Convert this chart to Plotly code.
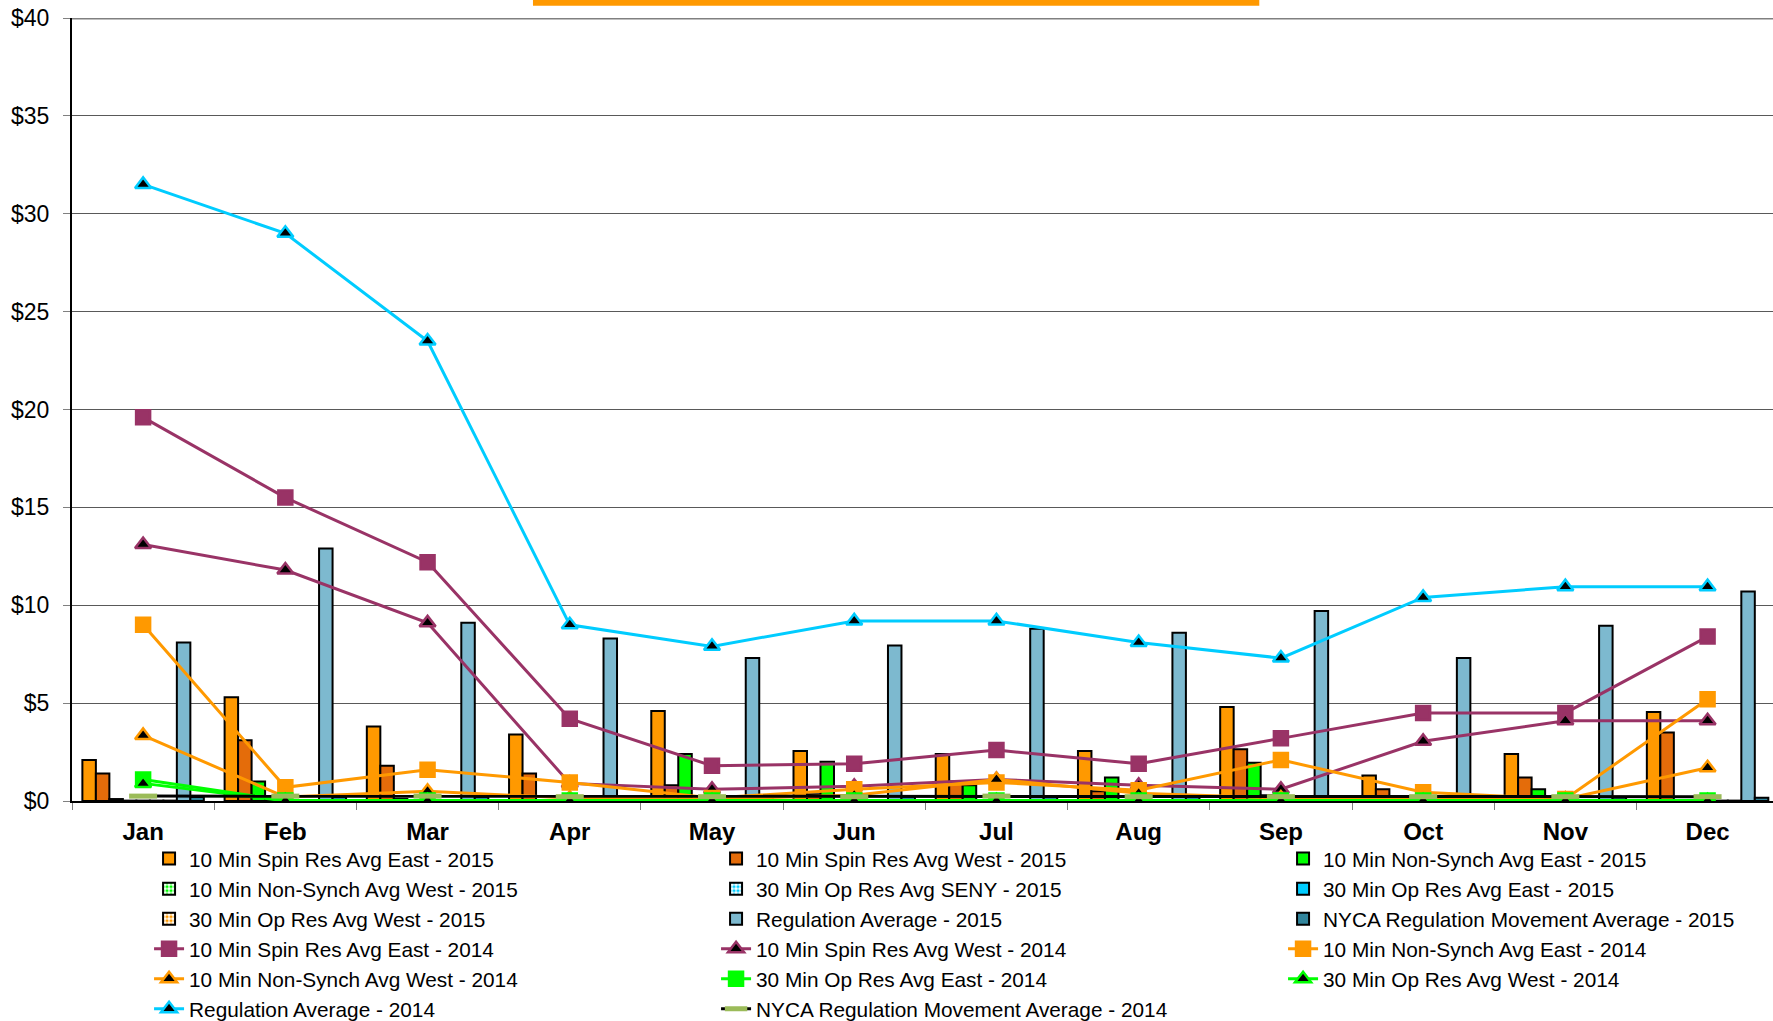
import plotly.graph_objects as go

# Monthly ancillary service prices ($/MWh)
months = ["Jan", "Feb", "Mar", "Apr", "May", "Jun", "Jul", "Aug", "Sep", "Oct", "Nov", "Dec"]

# 2015 monthly averages (bars)
spin_east_2015 = [2.1, 5.3, 3.8, 3.4, 4.6, 2.55, 2.4, 2.55, 4.8, 1.3, 2.4, 4.55]
spin_west_2015 = [1.4, 3.1, 1.8, 1.4, 0.8, 0.35, 1.0, 0.5, 2.65, 0.6, 1.2, 3.5]
nonsynch_east_2015 = [0.1, 1.0, 0.1, 0.05, 2.4, 2.0, 0.8, 1.2, 1.95, 0.05, 0.6, 0.05]
nonsynch_west_2015 = [0.02, 0.05, 0.05, 0.05, 0.05, 0.05, 0.05, 0.05, 0.3, 0.05, 0.05, 0.05]
op30_seny_2015 = [0.02, 0.02, 0.02, 0.02, 0.02, 0.02, 0.02, 0.02, 0.02, 0.02, 0.02, 0.02]
op30_east_2015 = [0.02, 0.02, 0.02, 0.02, 0.02, 0.02, 0.02, 0.02, 0.02, 0.02, 0.02, 0.02]
op30_west_2015 = [0.02, 0.02, 0.02, 0.02, 0.02, 0.02, 0.02, 0.02, 0.02, 0.02, 0.02, 0.02]
regulation_2015 = [8.1, 12.9, 9.1, 8.3, 7.3, 7.95, 8.8, 8.6, 9.7, 7.3, 8.95, 10.7]
nyca_reg_move_2015 = [0.2, 0.2, 0.2, 0.18, 0.2, 0.22, 0.2, 0.2, 0.2, 0.18, 0.18, 0.17]

# 2014 monthly averages (lines)
spin_east_2014 = [19.6, 15.5, 12.2, 4.2, 1.8, 1.9, 2.6, 1.9, 3.2, 4.5, 4.5, 8.4]
spin_west_2014 = [13.1, 11.8, 9.1, 0.9, 0.6, 0.75, 1.1, 0.8, 0.6, 3.05, 4.1, 4.1]
nonsynch_east_2014 = [9.0, 0.7, 1.6, 0.95, 0.15, 0.6, 0.95, 0.55, 2.1, 0.45, 0.1, 5.2]
nonsynch_west_2014 = [3.35, 0.2, 0.5, 0.15, 0.1, 0.3, 1.1, 0.4, 0.15, 0.1, 0.1, 1.7]
op30_east_2014 = [1.1, 0.02, 0.02, 0.02, 0.02, 0.02, 0.02, 0.02, 0.02, 0.02, 0.02, 0.02]
op30_west_2014 = [0.9, 0.01, 0.01, 0.01, 0.01, 0.01, 0.01, 0.01, 0.01, 0.01, 0.01, 0.01]
regulation_2014 = [31.5, 29.0, 23.5, 9.0, 7.9, 9.2, 9.2, 8.1, 7.3, 10.4, 10.95, 10.95]
nyca_reg_move_2014 = [0.25, 0.25, 0.25, 0.22, 0.22, 0.22, 0.25, 0.22, 0.22, 0.22, 0.22, 0.22]

FONT = "Liberation Sans, Arial, sans-serif"
ORANGE = "#FF9900"
DARK_ORANGE = "#E46C0A"
GREEN = "#00FF00"
CYAN = "#00CCFF"
PURPLE = "#993366"
REG_BLUE = "#7DB9CF"
TEAL = "#31859C"
OLIVE = "#9BBB59"

fig = go.Figure()

bar_specs = [
    ("10 Min Spin Res Avg East - 2015", spin_east_2015, ORANGE, None),
    ("10 Min Spin Res Avg West - 2015", spin_west_2015, DARK_ORANGE, None),
    ("10 Min Non-Synch Avg East - 2015", nonsynch_east_2015, GREEN, None),
    ("10 Min Non-Synch Avg West - 2015", nonsynch_west_2015, GREEN, "."),
    ("30 Min Op Res Avg SENY - 2015", op30_seny_2015, CYAN, "."),
    ("30 Min Op Res Avg East - 2015", op30_east_2015, CYAN, None),
    ("30 Min Op Res Avg West - 2015", op30_west_2015, ORANGE, "."),
    ("Regulation Average - 2015", regulation_2015, REG_BLUE, None),
    ("NYCA Regulation Movement Average - 2015", nyca_reg_move_2015, TEAL, None),
]

for name, vals, color, pattern in bar_specs:
    marker = dict(color=color, line=dict(color="black", width=2))
    if pattern:
        marker = dict(color="white", line=dict(color="black", width=2),
                      pattern=dict(shape=pattern, fgcolor=color, bgcolor="white",
                                   size=5, solidity=0.5, fillmode="replace"))
    fig.add_trace(go.Bar(name=name, x=months, y=vals, marker=marker))

line_specs = [
    ("10 Min Spin Res Avg East - 2014", spin_east_2014, PURPLE, "square", PURPLE, PURPLE),
    ("10 Min Spin Res Avg West - 2014", spin_west_2014, PURPLE, "triangle-up", "black", PURPLE),
    ("10 Min Non-Synch Avg East - 2014", nonsynch_east_2014, ORANGE, "square", ORANGE, ORANGE),
    ("10 Min Non-Synch Avg West - 2014", nonsynch_west_2014, ORANGE, "triangle-up", "black", ORANGE),
    ("30 Min Op Res Avg East - 2014", op30_east_2014, GREEN, "square", GREEN, GREEN),
    ("30 Min Op Res Avg West - 2014", op30_west_2014, GREEN, "triangle-up", "black", GREEN),
    ("Regulation Average - 2014", regulation_2014, CYAN, "triangle-up", "black", CYAN),
]

for name, vals, color, symbol, fill, edge in line_specs:
    fig.add_trace(go.Scatter(
        name=name, x=months, y=vals, mode="lines+markers",
        line=dict(color=color, width=3),
        marker=dict(symbol=symbol, size=14, color=fill, line=dict(color=edge, width=2.5)),
    ))

fig.add_trace(go.Scatter(
    name="NYCA Regulation Movement Average - 2014", x=months, y=nyca_reg_move_2014,
    mode="lines+markers",
    line=dict(color="black", width=3),
    marker=dict(symbol="line-ew", size=20, color=OLIVE, line=dict(color=OLIVE, width=5)),
))

fig.update_layout(
    width=1773, height=1021,
    paper_bgcolor="white", plot_bgcolor="white",
    font=dict(family=FONT, color="black"),
    margin=dict(l=72, r=0, t=18, b=220, autoexpand=False),
    barmode="group", bargap=0.146, bargroupgap=0,
    showlegend=True,
    legend=dict(
        orientation="h", x=0.0453, xanchor="left", y=-0.048, yanchor="top",
        font=dict(family=FONT, size=20.8, color="black"),
        entrywidth=522, traceorder="normal", bgcolor="rgba(0,0,0,0)",
    ),
    xaxis=dict(
        type="category", range=[-0.5, 11.46],
        showline=True, linecolor="black", linewidth=2,
        ticks="outside", tickson="boundaries", ticklen=7, tickcolor="#808080",
        tickfont=dict(family=FONT, size=24, weight="bold"),
        ticklabelstandoff=8,
        showgrid=False, zeroline=False,
    ),
    yaxis=dict(
        range=[0, 40], dtick=5, tickprefix="$",
        showline=True, linecolor="black", linewidth=2,
        ticks="outside", ticklen=7, tickcolor="#808080",
        tickfont=dict(family=FONT, size=23),
        ticklabelstandoff=9,
        showgrid=True, gridcolor="#595959", gridwidth=1.2, zeroline=False,
    ),
    shapes=[
        dict(type="line", xref="paper", yref="y", x0=0, x1=1, y0=40, y1=40,
             line=dict(color="#808080", width=3)),
        dict(type="rect", xref="paper", yref="paper", x0=0.271, x1=0.698,
             y0=1.0155, y1=1.03, fillcolor=ORANGE, line=dict(width=0)),
    ],
)

fig.write_html("out.html")
